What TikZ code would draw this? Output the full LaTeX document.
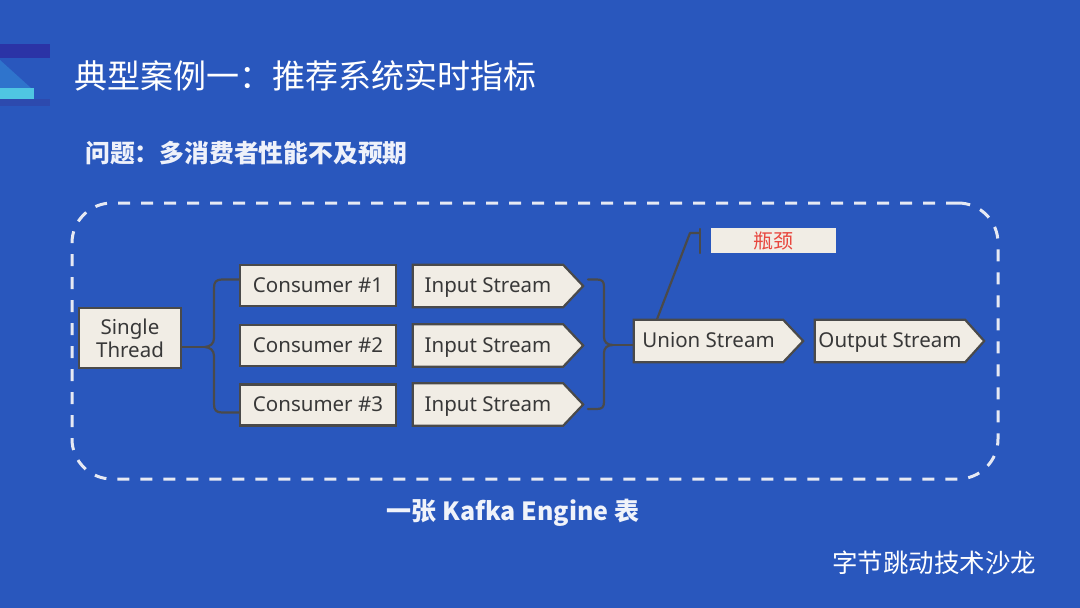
\documentclass[tikz,border=0pt]{standalone}
\usepackage{fontspec}
\setmainfont{Noto Sans}
\newfontfamily\cjk{Noto Sans CJK SC}
\usetikzlibrary{calc}
\pgfdeclarelayer{canvas}
\pgfdeclarelayer{background}
\pgfsetlayers{canvas,background,main}

\definecolor{slide}{HTML}{2957BD}
\definecolor{logoindigo}{HTML}{2B33A6}
\definecolor{logoblue}{HTML}{2F74CC}
\definecolor{logocyan}{HTML}{4FC6E2}
\definecolor{logoshade}{HTML}{2D4AAE}
\definecolor{boxfill}{HTML}{F1EDE5}
\definecolor{boxline}{HTML}{4A4A4A}
\definecolor{boxtext}{HTML}{383838}
\definecolor{dashline}{HTML}{E6E9F3}
\definecolor{alert}{HTML}{E8473F}

% pentagon outline behind a named stream node
\newcommand\streamoutline[2]{%
  \begin{pgfonlayer}{background}
    \filldraw[fill=boxfill, draw=boxline, line width=2.2pt, line join=miter]
      (#1.north west) -- (#1.north east) -- ($(#1.east)+(#2,0)$)
      -- (#1.south east) -- (#1.south west) -- cycle;
  \end{pgfonlayer}}

\begin{document}
\begin{tikzpicture}[x=1pt, y=-1pt,
  plainbox/.style={rectangle, fill=boxfill, draw=boxline, line width=2.2pt,
    text=boxtext, font=\fontsize{20.5}{24}\selectfont, inner sep=0pt, align=center},
  onerow/.style={text height=15pt, text depth=2pt},
  streambox/.style={rectangle, text=boxtext, font=\fontsize{20.5}{24}\selectfont,
    inner sep=0pt, minimum height=42pt, onerow},
  lead/.style={draw=boxline, line width=2.2pt, line cap=round, line join=round},
  frame/.style={draw=dashline, line width=3pt, dash pattern=on 12pt off 11pt,
    rounded corners=40pt, minimum width=926pt, minimum height=276pt}]

\begin{pgfonlayer}{canvas}
\fill[slide] (0,0) rectangle (1080,608);
\end{pgfonlayer}
\useasboundingbox (0,0) rectangle (1080,608);

% logo mark
\fill[logoindigo] (0,44) rectangle (50,58);
\fill[logoblue] (0,60) -- (31,88) -- (0,88) -- cycle;
\fill[logocyan] (0,88) rectangle (34,99);
\fill[logoshade] (0,99) rectangle (50,106);

% headings
\node[anchor=west, text=white, font=\cjk\fontsize{33}{38}\selectfont, inner sep=0pt]
  (title) at (74,76) {典型案例一：推荐系统实时指标};
\node[anchor=west, text=white!92!slide, font=\cjk\bfseries\fontsize{24.8}{29}\selectfont, inner sep=0pt]
  (question) at (85,153) {问题：多消费者性能不及预期};

% dashed table frame
\node[frame] (table) at (535,341) {};
\node[text=white!93!slide, font=\cjk\bfseries\fontsize{25}{29}\selectfont, inner sep=0pt]
  (tablelabel) at (513,513) {一张 Kafka Engine 表};

% thread and consumers
\node[plainbox, minimum width=102pt, minimum height=60pt] (st) at (130,338)
  {Single\\[-1pt]Thread};
\node[plainbox, onerow, minimum width=156pt, minimum height=41pt] (c1) at (318,285.5) {Consumer \#1};
\node[plainbox, onerow, minimum width=156pt, minimum height=41pt] (c2) at (318,345.5) {Consumer \#2};
\node[plainbox, onerow, minimum width=156pt, minimum height=41pt] (c3) at (318,405) {Consumer \#3};

% streams
\node[streambox, minimum width=150pt] (is1) at (488,286) {Input Stream};
\node[streambox, minimum width=150pt] (is2) at (488,345.5) {Input Stream};
\node[streambox, minimum width=150pt] (is3) at (488,404.5) {Input Stream};
\node[streambox, minimum width=149pt] (un) at (708.5,341) {Union Stream};
\node[streambox, minimum width=150pt] (out) at (890,341) {Output Stream};
\streamoutline{is1}{20}
\streamoutline{is2}{20}
\streamoutline{is3}{20}
\streamoutline{un}{20}
\streamoutline{out}{19}

% bottleneck callout
\node[rectangle, fill=boxfill, minimum width=125pt, minimum height=25pt, inner sep=0pt,
  text=alert, font=\cjk\fontsize{20}{24}\selectfont] (neck) at (773.5,240.5) {瓶颈};
\coordinate (bartop) at (700,229);
\coordinate (barbot) at (700,253);
\draw[lead] ($(un.north west)+(23,0)$) -- (690,233) -- (bartop |- 0,233);
\draw[lead] (bartop) -- (barbot);

% left brace: thread fans out to consumers
\coordinate (lt) at (205,347);
\draw[lead] (st.east |- lt) -- (lt);
\draw[lead] ($(c1.west)+(0,-6)$) -- (222,279.5)
  .. controls (216,279.5) and (214,282) .. (214,288) -- (214,338)
  .. controls (214,344) and (210,346.5) .. (lt)
  .. controls (210,347.5) and (214,350) .. (214,356) -- (214,404)
  .. controls (214,410) and (216,412.5) .. (222,412.5) -- ($(c3.west)+(0,7.5)$);

% right brace: input streams merge into the union
\coordinate (rt) at (613,345);
\draw[lead] (588,279.5) -- (597,279.5)
  .. controls (602,279.5) and (604,281.5) .. (604,286.5) -- (604,337)
  .. controls (604,342) and (607,345) .. (rt)
  .. controls (607,345) and (604,348) .. (604,353) -- (604,402)
  .. controls (604,407) and (602,409) .. (597,409) -- (588,409);
\draw[lead] (rt) -- (un.west |- rt);

% footer
\node[anchor=west, text=white, font=\cjk\fontsize{25.5}{30}\selectfont, inner sep=0pt]
  (footer) at (832,563) {字节跳动技术沙龙};
\end{tikzpicture}
\end{document}
